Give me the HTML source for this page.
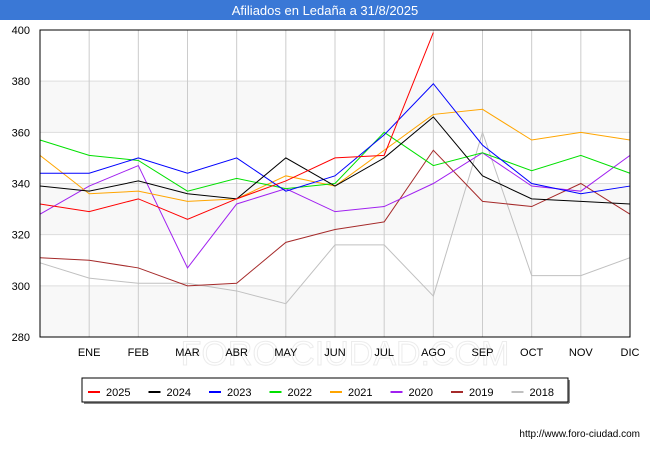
<!DOCTYPE html>
<html><head><meta charset="utf-8"><style>
body{margin:0;background:#fff;font-family:"Liberation Sans",sans-serif}
</style></head><body>
<svg id="c" width="650" height="450" xmlns="http://www.w3.org/2000/svg" style="display:block">
<rect x="0" y="0" width="650" height="20" fill="#3a78d6"/>
<text x="325" y="15" text-anchor="middle" font-size="13" fill="#fff">Afiliados en Ledaña a 31/8/2025</text>
<g id="grid"></g>
<text x="345" y="365" text-anchor="middle" font-size="34" fill="none" stroke="#ececec" stroke-width="1">FORO-CIUDAD.COM</text>
<g id="labels"></g><g id="lines"></g>
<rect x="40" y="30" width="590" height="307" fill="none" stroke="#000"/>
<g id="legend"></g>
<text x="640" y="437" text-anchor="end" font-size="10" fill="#000">http://www.foro-ciudad.com</text>
</svg>
<script>
const months=["","ENE","FEB","MAR","ABR","MAY","JUN","JUL","AGO","SEP","OCT","NOV","DIC"];
const yTicks=[280,300,320,340,360,380,400];
const names=["2025","2024","2023","2022","2021","2020","2019","2018"];
const colors=["#ff0000","#000000","#0000ff","#00e000","#ffa500","#a020f0","#a52a2a","#c0c0c0"];
const s2025=[332,329,334,326,334,341,350,351,399];
const s2024=[339,337,341,336,334,350,339,350,366,343,334,333,332];
const s2023=[344,344,350,344,350,337,343,359,379,355,340,336,339];
const s2022=[357,351,349,337,342,338,340,360,347,352,345,351,344];
const s2021=[351,336,337,333,334,343,339,353,367,369,357,360,357];
const s2020=[328,339,347,307,332,338,329,331,340,352,339,337,351];
const s2019=[311,310,307,300,301,317,322,325,353,333,331,340,328];
const s2018=[309,303,301,301,298,293,316,316,296,360,304,304,311];
const series=[s2025,s2024,s2023,s2022,s2021,s2020,s2019,s2018];
const NS="http://www.w3.org/2000/svg";
const X=i=>40+i*590/12, Y=v=>337-(v-280)*307/120;
function mk(t,a,p){const e=document.createElementNS(NS,t);for(const k in a)e.setAttribute(k,a[k]);p.appendChild(e);return e;}
const g=document.getElementById('grid');
const lb=document.getElementById('labels');
for(let k=0;k<yTicks.length-1;k+=2){const b=mk('rect',{x:40,y:Y(yTicks[k]+20),width:590,height:Y(yTicks[k])-Y(yTicks[k]+20),fill:'#f8f8f8'},g);

}
yTicks.forEach(v=>{const l=mk('line',{x1:40,x2:630,y1:Y(v),y2:Y(v),stroke:'#ddd'},g);


const t=mk('text',{x:30,y:Y(v)+4,'text-anchor':'end','font-size':11},lb);t.textContent=v;

});
months.forEach((m,i)=>{if(i>0){const l=mk('line',{x1:X(i),x2:X(i),y1:30,y2:337,stroke:'#ccc'},g);

}
const t=mk('text',{x:X(i),y:356,'text-anchor':'middle','font-size':11},lb);t.textContent=m;

});
const L=document.getElementById('lines');
for(let s=series.length-1;s>=0;s--){const p=mk('polyline',{points:series[s].map((v,i)=>X(i)+','+Y(v)).join(' '),fill:'none',stroke:colors[s],'stroke-width':1},L);

}
const lg=document.getElementById('legend');
mk('line',{x1:84,x2:569,y1:403,y2:403,stroke:'#888','stroke-width':2},lg);
mk('line',{x1:569,x2:569,y1:380,y2:403,stroke:'#888','stroke-width':2},lg);
const box=mk('rect',{x:82,y:378,width:486,height:24,fill:'#fff',stroke:'#000'},lg);


names.forEach((n,i)=>{const x=88+i*60.5;
const l=mk('line',{x1:x,x2:x+12,y1:392,y2:392,stroke:colors[i],'stroke-width':2},lg);


const t=mk('text',{x:x+18,y:396,'font-size':11},lg);t.textContent=n;

});
</script>
</body></html>
